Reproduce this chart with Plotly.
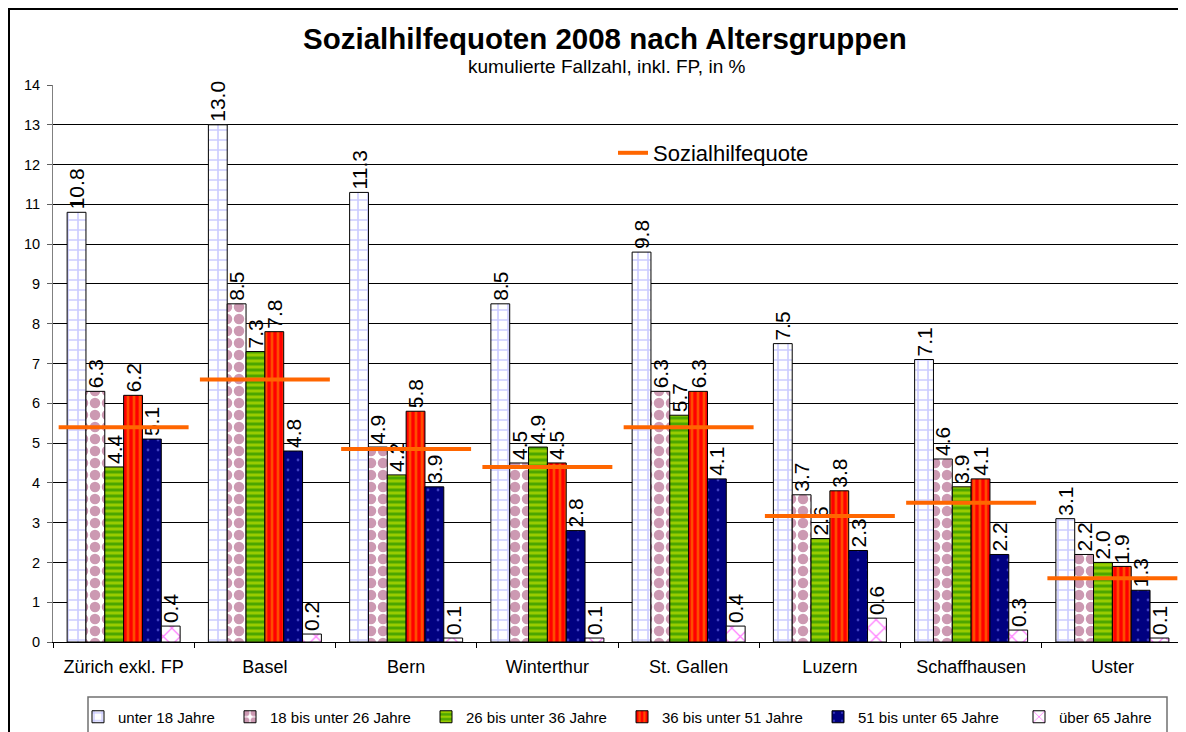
import plotly.graph_objects as go

# ---------------- data ----------------
cities = ["Zürich exkl. FP", "Basel", "Bern", "Winterthur",
          "St. Gallen", "Luzern", "Schaffhausen", "Uster"]
age_groups = ["unter 18 Jahre", "18 bis unter 26 Jahre", "26 bis unter 36 Jahre",
              "36 bis unter 51 Jahre", "51 bis unter 65 Jahre", "über 65 Jahre"]
unter_18 = [10.8, 13.0, 11.3, 8.5, 9.8, 7.5, 7.1, 3.1]
j18_26 = [6.3, 8.5, 4.9, 4.5, 6.3, 3.7, 4.6, 2.2]
j26_36 = [4.4, 7.3, 4.2, 4.9, 5.7, 2.6, 3.9, 2.0]
j36_51 = [6.2, 7.8, 5.8, 4.5, 6.3, 3.8, 4.1, 1.9]
j51_65 = [5.1, 4.8, 3.9, 2.8, 4.1, 2.3, 2.2, 1.3]
ueber_65 = [0.4, 0.2, 0.1, 0.1, 0.4, 0.6, 0.3, 0.1]
sozialhilfequote = [5.4, 6.6, 4.85, 4.4, 5.4, 3.17, 3.5, 1.6]
y_ticks = list(range(0, 15))

series = [unter_18, j18_26, j26_36, j36_51, j51_65, ueber_65]

# ---------------- styles ----------------
FONT = "Liberation Sans, Arial, sans-serif"
patterns = [
    dict(shape="+", bgcolor="white", fgcolor="#9999FF", size=10, solidity=0.3),
    dict(shape=".", bgcolor="white", fgcolor="#993366", size=12, solidity=0.6),
    dict(shape="-", bgcolor="#99CC00", fgcolor="#008000", size=6, solidity=0.5),
    dict(shape="|", bgcolor="#FF0000", fgcolor="#FF9900", size=6, solidity=0.45),
    dict(shape=".", bgcolor="#000080", fgcolor="#8080FF", size=10, solidity=0.06),
    dict(shape="x", bgcolor="white", fgcolor="#FF00FF", size=12, solidity=0.2),
]
base_colors = ["white", "white", "#99CC00", "#FF0000", "#000080", "white"]

# page has an 8px body margin: figure coords = page coords - 8
OFF = 8
W, H = 1178, 724
L, T = 53 - OFF, 85 - OFF
PLOT_R, PLOT_B = 1183 - OFF, 642 - OFF
R, B = W - PLOT_R, H - PLOT_B
pw, ph = W - L - R, H - T - B


def px_x(p):
    return (p - OFF - L) / pw


def px_y(p):
    return (PLOT_B - (p - OFF)) / ph


# text start positions of the bottom legend entries (page pixels)
legend_text_px = [118, 270, 466, 662, 858, 1059]
LEG_OFF = 40

fig = go.Figure()
legend_names = ["legend", "legend3", "legend4", "legend5", "legend6", "legend7"]

for name, vals, pat, col, lg in zip(age_groups, series, patterns, base_colors, legend_names):
    fig.add_trace(go.Bar(
        x=cities, y=vals, name=name,
        marker=dict(color=col, pattern=pat, line=dict(color="black", width=1)),
        texttemplate="%{y:.1f}", textposition="outside", textangle=-90,
        constraintext="none", cliponaxis=False,
        textfont=dict(family=FONT, size=21, color="black"),
        legend=lg,
    ))

# Sozialhilfequote as short horizontal segments on an overlaying numeric axis
lx, ly = [], []
for i, q in enumerate(sozialhilfequote):
    lx += [i - 0.46, i + 0.46, None]
    ly += [q, q, None]
fig.add_trace(go.Scatter(
    x=lx, y=ly, mode="lines", name="Sozialhilfequote", xaxis="x2",
    line=dict(color="#FF6600", width=4), legend="legend2",
))

legend_common = dict(xanchor="left", yanchor="middle", bgcolor="rgba(0,0,0,0)",
                     font=dict(family=FONT, size=15))
legend_layout = {}
for lg, tx in zip(legend_names, legend_text_px):
    legend_layout[lg] = dict(x=px_x(tx - LEG_OFF), y=px_y(717), **legend_common)

fig.update_layout(
    width=W, height=H,
    margin=dict(l=L, r=R, t=T, b=B, autoexpand=False),
    paper_bgcolor="white", plot_bgcolor="white",
    font=dict(family=FONT, color="black"),
    barmode="group", bargap=0.2, bargroupgap=0,
    showlegend=True,
    legend2=dict(x=px_x(653 - LEG_OFF), y=px_y(153), xanchor="left", yanchor="middle",
                 font=dict(family=FONT, size=22), bgcolor="rgba(0,0,0,0)"),
    xaxis=dict(type="category", tickfont=dict(size=18), ticks="outside", tickson="boundaries",
               ticklen=5, tickcolor="black", showline=True, linecolor="black", linewidth=1,
               showgrid=False, ticklabelstandoff=8),
    xaxis2=dict(overlaying="x", range=[-0.5, len(cities) - 0.5], visible=False),
    yaxis=dict(range=[0, 14], tickvals=y_ticks, tickfont=dict(size=14.5), ticks="outside",
               ticklen=5, tickcolor="#606060", showline=True, linecolor="#808080", linewidth=1,
               showgrid=True, gridcolor="black", gridwidth=1, zeroline=True,
               zerolinecolor="black", zerolinewidth=1, ticklabelstandoff=4),
    annotations=[
        dict(text="<b>Sozialhilfequoten 2008 nach Altersgruppen</b>", xref="paper", yref="paper",
             x=px_x(605), y=px_y(38), xanchor="center", yanchor="middle", showarrow=False,
             font=dict(family=FONT, size=29.5, color="black")),
        dict(text="kumulierte Fallzahl, inkl. FP, in %", xref="paper", yref="paper",
             x=px_x(606), y=px_y(66), xanchor="center", yanchor="middle", showarrow=False,
             font=dict(family=FONT, size=19, color="black")),
    ],
    shapes=[
        dict(type="rect", xref="paper", yref="paper", x0=px_x(9), x1=px_x(1230),
             y0=px_y(800), y1=px_y(9), line=dict(color="black", width=2), layer="below"),
        dict(type="rect", xref="paper", yref="paper", x0=px_x(88), x1=px_x(1167),
             y0=px_y(780), y1=px_y(697), line=dict(color="#707070", width=1.5), layer="below"),
    ],
)
fig.update_layout(**legend_layout)

fig.write_html("out.html")
